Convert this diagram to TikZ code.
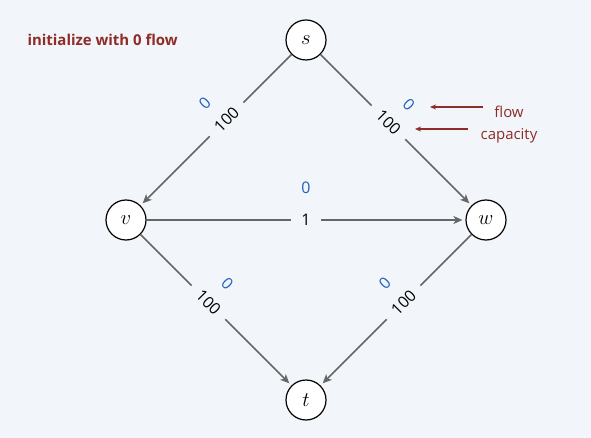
\documentclass[tikz,border=0pt]{standalone}
\usepackage{fontspec}
\setmainfont{Open Sans}
\usetikzlibrary{arrows.meta}
\definecolor{bg}{HTML}{F2F5F9}
\definecolor{edgegray}{HTML}{666666}
\definecolor{darkred}{HTML}{8E2C27}
\definecolor{flowblue}{HTML}{1F5FBF}
\begin{document}
\begin{tikzpicture}[x=1bp,y=-1bp,
  vertex/.style={circle, draw=black, line width=1.2bp, fill=white, minimum size=40bp, inner sep=0pt, font=\fontsize{22}{24}\selectfont},
  edgeline/.style={draw=edgegray, line width=1.6bp, -{Stealth[length=9bp,width=8bp,inset=2.5bp]}, shorten >=3bp},
  caplbl/.style={sloped, fill=bg, inner xsep=10bp, inner ysep=0bp, font=\fontsize{16}{18}\selectfont, text=black},
  flwlbl/.style={sloped, inner sep=0pt, font=\fontsize{16}{18}\selectfont, text=flowblue},
  note/.style={font=\fontsize{15}{17}\selectfont, text=darkred},
  notearrow/.style={draw=darkred, line width=1.2bp, -{Stealth[length=6bp,width=5bp]}}
]
\fill[bg] (0,0) rectangle (591,438);
\useasboundingbox (0,0) rectangle (591,438);

\node[note, font=\fontsize{15}{17}\selectfont\bfseries, anchor=west] (title) at (24,40) {initialize with 0 flow};

\node[vertex] (s) at (306,40) {$s$};
\node[vertex] (v) at (126,220) {$v$};
\node[vertex] (w) at (486,220) {$w$};
\node[vertex] (t) at (306,400) {$t$};

\draw[edgeline] (s) -- node[caplbl,pos=0.43]{100} node[flwlbl,pos=0.45,above=20bp]{0} (v);
\draw[edgeline] (s) -- node[caplbl,pos=0.45]{100} node[flwlbl,pos=0.46,above=20bp]{0} (w);
\draw[edgeline] (v) -- node[caplbl,pos=0.5]{1} node[flwlbl,pos=0.5,above=26bp]{0} (w);
\draw[edgeline] (v) -- node[caplbl,pos=0.45]{100} node[flwlbl,pos=0.45,above=20bp]{0} (t);
\draw[edgeline] (w) -- node[caplbl,pos=0.45]{100} node[flwlbl,pos=0.45,above=20bp]{0} (t);

\node[note] (flow) at (509,112) {flow};
\node[note] (capacity) at (509,136) {capacity};
\coordinate (fa1) at (483,107);
\coordinate (fa2) at (430,107);
\coordinate (ca1) at (468,129);
\coordinate (ca2) at (415,129);
\draw[notearrow] (fa1) -- (fa2);
\draw[notearrow] (ca1) -- (ca2);
\end{tikzpicture}
\end{document}
